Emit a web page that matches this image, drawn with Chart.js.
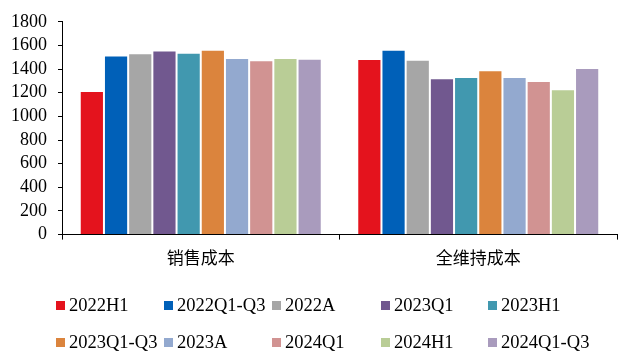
<!DOCTYPE html>
<html>
<head>
<meta charset="utf-8">
<script src="https://cdn.jsdelivr.net/npm/chart.js@4/dist/chart.umd.min.js"></script>
<style>
  html,body{margin:0;padding:0;background:#fff;}
  #wrap{position:relative;width:618px;height:351px;}
  #legend{position:absolute;left:0;top:0;width:618px;height:351px;pointer-events:none;
    font-family:"Liberation Serif","Times New Roman",serif;font-size:18.5px;color:#000;}
  .li{position:absolute;display:flex;align-items:center;white-space:nowrap;line-height:18px;}
  .sw{width:9px;height:9px;margin-right:4px;display:inline-block;}
</style>
</head>
<body>
<div id="wrap">
  <canvas id="c" width="618" height="351"></canvas>
  <div id="legend"></div>
</div>
<script>
const categories = ["销售成本", "全维持成本"];
const seriesNames = ["2022H1","2022Q1-Q3","2022A","2023Q1","2023H1","2023Q1-Q3","2023A","2024Q1","2024H1","2024Q1-Q3"];
const salesCost = [1215, 1516, 1533, 1558, 1538, 1563, 1493, 1474, 1493, 1488];
const aiscCost  = [1485, 1563, 1479, 1322, 1333, 1390, 1333, 1300, 1229, 1410];
const yTicks = [0,200,400,600,800,1000,1200,1400,1600,1800];
const colors = ["#E4131D","#0060B8","#A6A6A6","#71588F","#4198AF","#DB843D","#93A9CF","#D19392","#B9CD96","#A99BBD"];

const datasets = seriesNames.map((n,i)=>({
  label:n,
  data:[salesCost[i], aiscCost[i]],
  backgroundColor:colors[i],
  borderColor:"rgba(255,255,255,0.8)",
  borderWidth:1,
  categoryPercentage:0.872,
  barPercentage:1.0
}));

const serif = "'Liberation Serif','Times New Roman',serif";
new Chart(document.getElementById('c'),{
  type:'bar',
  data:{labels:categories,datasets},
  options:{
    responsive:false,
    animation:false,
    devicePixelRatio:1,
    layout:{padding:{left:0,right:1,top:8,bottom:75}},
    plugins:{legend:{display:false},tooltip:{enabled:false}},
    scales:{
      x:{
        grid:{drawOnChartArea:false,drawTicks:true,tickLength:5,color:'#000',offset:true},
        border:{color:'#000',width:1},
        ticks:{color:'#000',padding:8,font:{family:"'Noto Sans CJK SC',"+serif,size:17}}
      },
      y:{
        min:0,max:1800,
        afterBuildTicks:(s)=>{s.ticks=yTicks.map(v=>({value:v}));},
        grid:{drawOnChartArea:false,drawTicks:true,tickLength:4,color:'#000'},
        border:{color:'#000',width:1},
        ticks:{color:'#000',padding:11,autoSkip:false,font:{family:serif,size:18},
          callback:(v)=>String(v)}
      }
    }
  }
});

const legend = document.getElementById('legend');
const colX = [56,164,272,381,488];
const rowY = [305,342];
seriesNames.forEach((n,i)=>{
  const d=document.createElement('div');
  d.className='li';
  d.style.left=colX[i%5]+'px';
  d.style.top=(rowY[Math.floor(i/5)]-9)+'px';
  const s=document.createElement('span');
  s.className='sw';s.style.background=colors[i];
  d.appendChild(s);
  d.appendChild(document.createTextNode(n));
  legend.appendChild(d);
});
</script>
</body>
</html>
